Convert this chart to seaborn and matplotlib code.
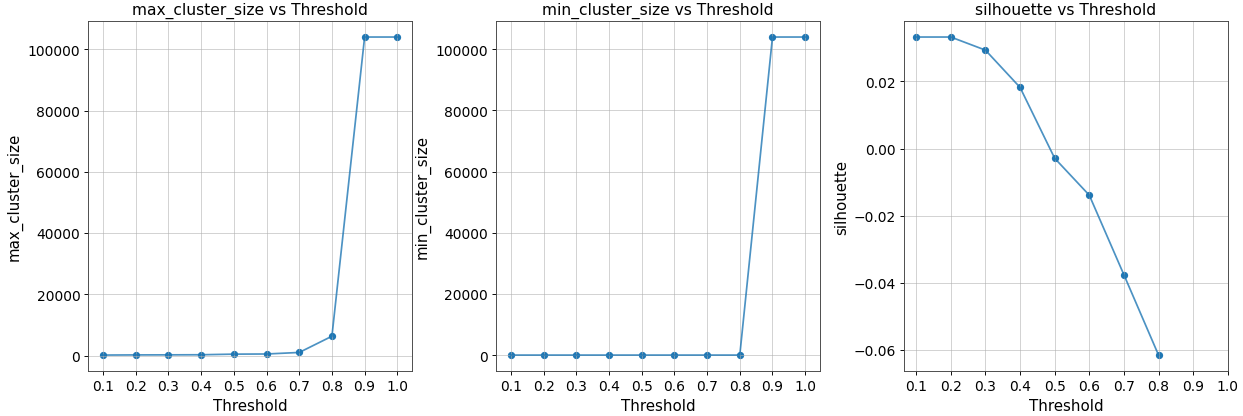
import numpy as np
import pandas as pd
import seaborn as sns
import matplotlib.pyplot as plt

# values
thresholds = [0.1, 0.2, 0.3, 0.4, 0.5, 0.6, 0.7, 0.8, 0.9, 1.0]
max_cluster_size = [150, 200, 220, 250, 450, 500, 1000, 6300, 104000, 104000]
min_cluster_size = [1, 1, 1, 1, 1, 1, 1, 1, 104000, 104000]
silhouette = [0.0332, 0.0332, 0.0293, 0.0182, -0.0029, -0.0139, -0.0376, -0.0615, np.nan, np.nan]

df = pd.DataFrame({
    'Threshold': thresholds,
    'max_cluster_size': max_cluster_size,
    'min_cluster_size': min_cluster_size,
    'silhouette': silhouette,
})

metrics = ['max_cluster_size', 'min_cluster_size', 'silhouette']

fig, axes = plt.subplots(1, 3, figsize=(15, 5.028), dpi=82.93)
plt.subplots_adjust(left=0.071, right=0.987, top=0.947, bottom=0.108, wspace=0.26)

for ax, metric in zip(axes, metrics):
    sns.lineplot(data=df, x='Threshold', y=metric, color='#1f77b4',
                 linewidth=1.5, alpha=0.8, ax=ax)
    sns.scatterplot(data=df, x='Threshold', y=metric, color='#1f77b4',
                    s=40, linewidth=0, ax=ax)
    ax.set_xticks(thresholds)
    ax.set_title(f'{metric} vs Threshold', fontsize=13.5)
    ax.set_xlabel('Threshold', fontsize=13)
    ax.set_ylabel(metric, fontsize=13)
    ax.tick_params(labelsize=12)
    ax.grid(True, alpha=0.6)
    for s in ax.spines.values():
        s.set_edgecolor('#444444')

plt.savefig('out.png', dpi=82.93)
